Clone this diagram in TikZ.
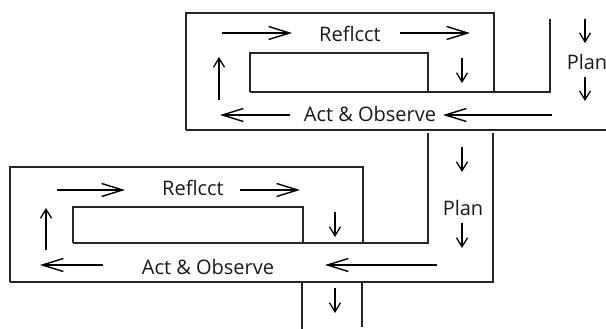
\documentclass[tikz,border=0pt]{standalone}
\usepackage{fontspec}
\setmainfont{Open Sans}
\usetikzlibrary{arrows.meta}
\begin{document}
\begin{tikzpicture}[x=1pt,y=-1pt,
  frame/.style={line width=1.3pt,draw=black!85},
  harrow/.style={line width=1.2pt,-{Straight Barb[length=21pt,width=13pt,line width=1.4pt]}},
  varrow/.style={line width=1.2pt,-{Straight Barb[length=9pt,width=11pt,line width=1.3pt]}},
  lbl/.style={font=\fontsize{20}{21}\selectfont,inner sep=0pt,text=black!90}]
\useasboundingbox (0,0) rectangle (606,329);
% ---------- top block ----------
\coordinate (t1) at (186,130);
\coordinate (t2) at (186,13);
\coordinate (t3) at (494,13);
\coordinate (t4) at (494,92);
\coordinate (t5) at (550,92);
\coordinate (t6) at (550,19);
\coordinate (t7) at (606,130);
\draw[frame] (t1) -- (t2) -- (t3) -- (t4) -- (t5) -- (t6);
\draw[frame] (t1) -- (t7);
\coordinate (ti1) at (250,53);
\coordinate (ti2) at (428,92);
\draw[frame] (ti1 |- ti2) -- (ti1) -- (ti1 -| ti2) -- (ti2);
\draw[frame] (ti1 |- ti2) -- (t4);
\node[lbl] (r1) at (350,34) {Reflcct};
\node[lbl] (a1) at (370,114) {Act \& Observe};
\node[lbl] (p1) at (587,62) {Plan};
\coordinate (r1a) at (222,33); \coordinate (r1b) at (292,33);
\coordinate (r1c) at (400,33); \coordinate (r1d) at (470,33);
\draw[harrow] (r1a) -- (r1b);
\draw[harrow] (r1c) -- (r1d);
\coordinate (u1a) at (219,100); \coordinate (u1b) at (219,57);
\draw[varrow] (u1a) -- (u1b);
\coordinate (d1a) at (462,58); \coordinate (d1b) at (462,83);
\draw[varrow] (d1a) -- (d1b);
\coordinate (a1a) at (290,115); \coordinate (a1b) at (220,115);
\coordinate (a1c) at (552,115); \coordinate (a1d) at (443,115);
\draw[harrow] (a1a) -- (a1b);
\draw[harrow] (a1c) -- (a1d);
\coordinate (pa) at (585,19); \coordinate (pb) at (585,43);
\coordinate (pc) at (585,77); \coordinate (pd) at (585,101);
\draw[varrow] (pa) -- (pb);
\draw[varrow] (pc) -- (pd);
% ---------- bottom block ----------
\coordinate (b1) at (10,282);
\coordinate (b2) at (10,167);
\coordinate (b3) at (363,167);
\coordinate (b4) at (363,243);
\coordinate (b5) at (428,243);
\coordinate (b6) at (428,133);
\coordinate (b7) at (493,282);
\coordinate (b8) at (493,133);
\draw[frame] (b1) -- (b2) -- (b3) -- (b4) -- (b5) -- (b6);
\draw[frame] (b1) -- (b7) -- (b8);
\coordinate (bi1) at (73,207);
\coordinate (bi2) at (303,243);
\draw[frame] (bi1 |- bi2) -- (bi1) -- (bi1 -| bi2) -- (bi2);
\draw[frame] (bi1 |- bi2) -- (b4);
\node[lbl] (r2) at (193,188) {Reflcct};
\node[lbl] (a2) at (208,267) {Act \& Observe};
\node[lbl] (p2) at (463,208) {Plan};
\coordinate (r2a) at (57,190); \coordinate (r2b) at (125,190);
\coordinate (r2c) at (240,190); \coordinate (r2d) at (300,190);
\draw[harrow] (r2a) -- (r2b);
\draw[harrow] (r2c) -- (r2d);
\coordinate (u2a) at (46,250); \coordinate (u2b) at (46,208);
\draw[varrow] (u2a) -- (u2b);
\coordinate (d2a) at (335,212); \coordinate (d2b) at (335,237);
\draw[varrow] (d2a) -- (d2b);
\coordinate (a2a) at (103,265); \coordinate (a2b) at (40,265);
\coordinate (a2c) at (437,265); \coordinate (a2d) at (325,265);
\draw[harrow] (a2a) -- (a2b);
\draw[harrow] (a2c) -- (a2d);
\coordinate (qa) at (462,147); \coordinate (qb) at (462,172);
\coordinate (qc) at (462,223); \coordinate (qd) at (462,248);
\draw[varrow] (qa) -- (qb);
\draw[varrow] (qc) -- (qd);
% ---------- exit channel ----------
\coordinate (e1) at (302,282); \coordinate (e2) at (302,329);
\coordinate (e3) at (362,282); \coordinate (e4) at (362,327);
\draw[frame] (e1) -- (e2);
\draw[frame] (e3) -- (e4);
\coordinate (ea) at (335,288); \coordinate (eb) at (335,313);
\draw[varrow] (ea) -- (eb);
\end{tikzpicture}
\end{document}
